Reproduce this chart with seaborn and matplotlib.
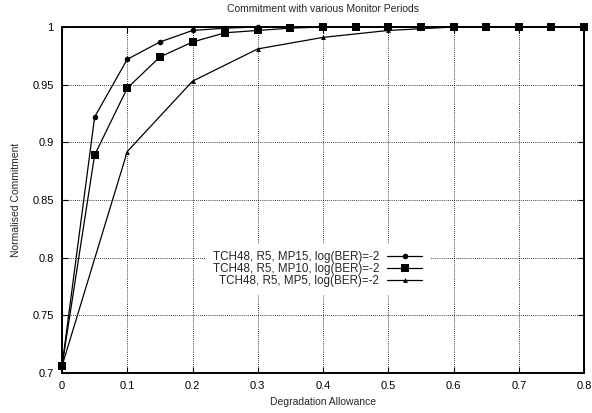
import numpy as np
import matplotlib
matplotlib.use("Agg")
import matplotlib.pyplot as plt
import matplotlib.ticker as mticker
import pandas as pd
import seaborn as sns

# values
x_mp15 = [0, 0.05, 0.1, 0.15, 0.2, 0.25, 0.3, 0.35, 0.4, 0.45, 0.5, 0.55, 0.6, 0.65, 0.7, 0.75, 0.8]
y_mp15 = [0.706, 0.922, 0.972, 0.987, 0.997, 0.999, 1.0, 1.0, 1.0, 1.0, 1.0, 1.0, 1.0, 1.0, 1.0, 1.0, 1.0]

x_mp10 = [0, 0.05, 0.1, 0.15, 0.2, 0.25, 0.3, 0.35, 0.4, 0.45, 0.5, 0.55, 0.6, 0.65, 0.7, 0.75, 0.8]
y_mp10 = [0.706, 0.889, 0.947, 0.974, 0.987, 0.995, 0.997, 0.999, 1.0, 1.0, 1.0, 1.0, 1.0, 1.0, 1.0, 1.0, 1.0]

x_mp5 = [0, 0.1, 0.2, 0.3, 0.4, 0.5, 0.6, 0.7, 0.8]
y_mp5 = [0.706, 0.892, 0.953, 0.981, 0.991, 0.997, 1.0, 1.0, 1.0]

labels = ["TCH48, R5, MP15, log(BER)=-2",
          "TCH48, R5, MP10, log(BER)=-2",
          "TCH48, R5, MP5, log(BER)=-2"]

x_ticks = [0, 0.1, 0.2, 0.3, 0.4, 0.5, 0.6, 0.7, 0.8]
y_ticks = [0.7, 0.75, 0.8, 0.85, 0.9, 0.95, 1.0]

sns.set_style("ticks")
plt.rcParams['font.family'] = ['Liberation Sans', 'DejaVu Sans']

fig, ax = plt.subplots(figsize=(5.92, 4.13), dpi=100)
fig.subplots_adjust(left=62/592, right=584/592, top=1-27/413, bottom=1-373/413)

sns.lineplot(x=x_mp15, y=y_mp15, ax=ax, color="black", lw=0.9, marker="o",
             markersize=4, markeredgewidth=0, label=labels[0], clip_on=False, zorder=3)
sns.lineplot(x=x_mp10, y=y_mp10, ax=ax, color="black", lw=0.9, marker="s",
             markersize=5.5, markeredgewidth=0, label=labels[1], clip_on=False, zorder=4)
sns.lineplot(x=x_mp5, y=y_mp5, ax=ax, color="black", lw=0.9, marker="^",
             markersize=3.5, markeredgewidth=0, label=labels[2], clip_on=False, zorder=3)

ax.set_xlim(0, 0.8)
ax.set_ylim(0.7, 1.0)
ax.set_xticks(x_ticks)
ax.set_yticks(y_ticks)
ax.xaxis.set_major_formatter(mticker.FormatStrFormatter('%g'))
ax.yaxis.set_major_formatter(mticker.FormatStrFormatter('%g'))
ax.tick_params(direction="in", length=4, width=0.8, top=True, right=True,
               labelsize=8, pad=6, colors="black")
ax.grid(True, color="black", linestyle=(0, (1, 1.5)), linewidth=0.6)
ax.set_axisbelow(True)
for s in ax.spines.values():
    s.set_linewidth(1.4)
    s.set_color("black")

ax.set_xlabel("Degradation Allowance", fontsize=7.5, labelpad=4)
ax.set_ylabel("Normalised Commitment", fontsize=7.5, labelpad=8)
ax.set_title("Commitment with various Monitor Periods", fontsize=7.5, pad=10.5)

leg = ax.legend(loc="center right", bbox_to_anchor=(0.715, 0.30), markerfirst=False,
                frameon=True, fontsize=8.4, handlelength=3.0, handletextpad=0.7,
                labelspacing=0.0, borderpad=0.6, fancybox=False)
leg.get_frame().set_facecolor("white")
leg.get_frame().set_edgecolor("white")
leg.get_frame().set_alpha(1)
for t in leg.get_texts():
    t.set_ha("right")
leg._legend_box.align = "right"

fig.savefig("out.png", dpi=100)
